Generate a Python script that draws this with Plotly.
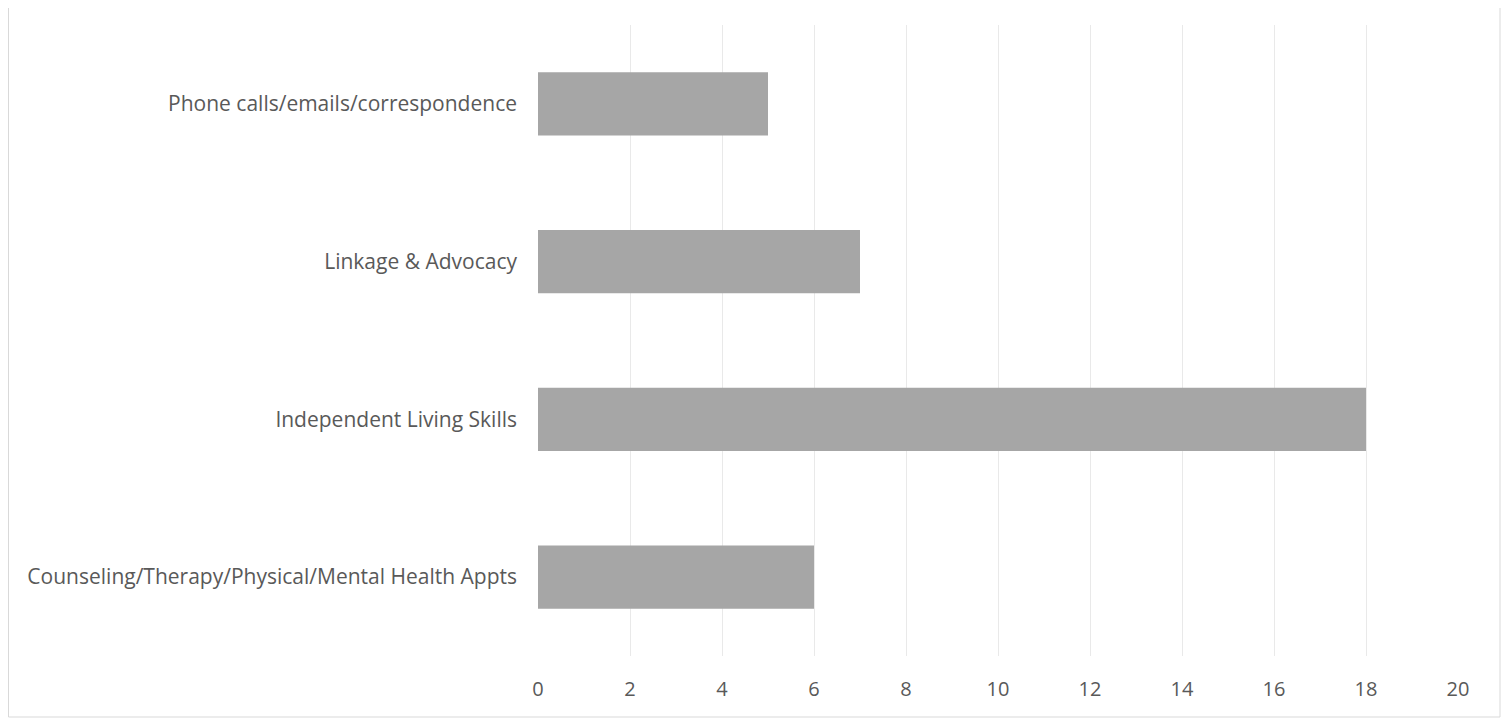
import plotly.graph_objects as go

# ---------------------------------------------------------------------------
# Data (bottom to top, as drawn)
# ---------------------------------------------------------------------------
CATEGORIES = [
    "Counseling/Therapy/Physical/Mental Health Appts",
    "Independent Living Skills",
    "Linkage & Advocacy",
    "Phone calls/emails/correspondence",
]
COUNTS = [6, 18, 7, 5]
X_TICKS = list(range(0, 21, 2))

TEXT = "#595959"
BAR = "#a6a6a6"
GRID = "#e9e9e9"

# page body adds an 8px offset, so the figure is 8px smaller than the window
W, H = 1501, 713
L, R, T, B = 530, 51, 17, 65
PW, PH = W - L - R, H - T - B

fig = go.Figure(go.Bar(
    x=COUNTS,
    y=CATEGORIES,
    orientation="h",
    marker=dict(color=BAR, line=dict(width=0)),
    hovertemplate="%{y}: %{x}<extra></extra>",
))

fig.update_layout(
    width=W,
    height=H,
    paper_bgcolor="white",
    plot_bgcolor="white",
    margin=dict(l=L, r=R, t=T, b=B),
    bargap=0.6,
    showlegend=False,
    font=dict(family="'Open Sans', 'Noto Sans', sans-serif", color=TEXT, size=21),
    xaxis=dict(
        range=[0, 20],
        tickvals=X_TICKS,
        showgrid=True,
        gridcolor=GRID,
        gridwidth=1,
        zeroline=False,
        showline=False,
        ticks="",
        ticklabelstandoff=19,
        tickfont=dict(color=TEXT, size=20),
    ),
    yaxis=dict(
        showgrid=False,
        zeroline=False,
        showline=False,
        ticks="",
        ticklabelstandoff=20,
        tickfont=dict(color=TEXT, size=21),
    ),
    shapes=[dict(
        type="rect", xref="paper", yref="paper",
        x0=-(L - 0.5) / PW, x1=1 + (R - 9) / PW,
        y0=-(B - 4) / PH, y1=1 + (T + 20) / PH,
        line=dict(color="#d9d9d9", width=1),
        fillcolor="rgba(0,0,0,0)",
        layer="below",
    )],
)

fig.write_html("out.html")
